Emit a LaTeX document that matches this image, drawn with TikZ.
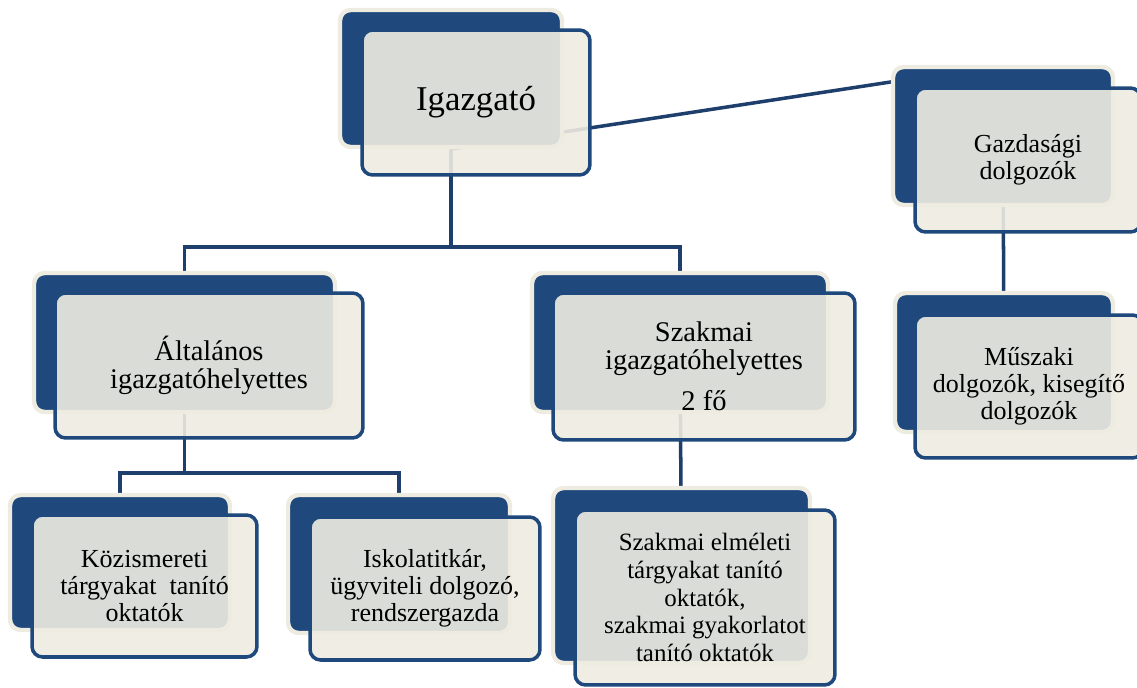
\documentclass[tikz,border=0pt]{standalone}
\usepackage{fontspec}
\setmainfont{Liberation Serif}
\usepackage{xcolor}
\usepackage{tikz}
\usetikzlibrary{calc, positioning}

\definecolor{kek}{HTML}{1F497D}
\definecolor{vonalkek}{HTML}{1E3E6C}
\definecolor{krem}{HTML}{EEECE1}

\pgfdeclarelayer{vonalak}
\pgfdeclarelayer{hatter}
\pgfsetlayers{vonalak,hatter,main}

\begin{document}
\begin{tikzpicture}[
        x=0.02cm, y=-0.02cm,
        hatso/.style={
            draw=krem,
            line width=2.5pt,
            fill=kek,
            rounded corners=6pt,
            inner sep=0pt
        },
        elso/.style={
            draw=kek,
            line width=2pt,
            fill=krem,
            fill opacity=0.9,
            text opacity=1,
            rounded corners=6pt,
            align=center,
            inner sep=2pt
        },
        szint1/.style={font=\fontsize{19.8}{21}\selectfont},
        szint2/.style={font=\fontsize{16.2}{15.6}\selectfont},
        szint3/.style={font=\fontsize{14.8}{15.3}\selectfont},
        vonal/.style={
            draw=vonalkek,
            line width=2pt
        }
    ]
        \useasboundingbox (0,0) rectangle (1137,687);

        % Hátsó kék dobozok
        \begin{pgfonlayer}{hatter}
            \node (igazgato) [hatso, minimum width=4.44cm, minimum height=2.74cm] at (451,78.5) {};
            \node (gazdasagi) [hatso, minimum width=4.40cm, minimum height=2.76cm] at (1003,136) {};
            \node (altalanos) [hatso, minimum width=6.02cm, minimum height=2.78cm] at (184.5,342.5) {};
            \node (szakmai) [hatso, minimum width=5.92cm, minimum height=2.78cm] at (680,342.5) {};
            \node (muszaki) [hatso, minimum width=4.36cm, minimum height=2.78cm] at (1004,362.5) {};
            \node (kozismereti) [hatso, minimum width=4.40cm, minimum height=2.70cm] at (120,562.5) {};
            \node (iskolatitkar) [hatso, minimum width=4.44cm, minimum height=2.76cm] at (399,564) {};
            \node (szakmai-elm) [hatso, minimum width=5.14cm, minimum height=3.50cm] at (681.5,575.5) {};
        \end{pgfonlayer}

        % Első dobozok a szövegekkel
        \node (igazgato-sz) [elso, szint1, minimum width=4.56cm, minimum height=2.90cm] at ([shift={(25,24)}]igazgato.center) {Igazgató};
        \node (gazdasagi-sz) [elso, szint3, minimum width=4.52cm, minimum height=2.88cm] at ([shift={(25,24)}]gazdasagi.center) {Gazdasági\\dolgozók};
        \node (altalanos-sz) [elso, szint2, minimum width=6.16cm, minimum height=2.90cm] at ([shift={(24.5,23)}]altalanos.center) {Általános\\igazgatóhelyettes};
        \node (szakmai-sz) [elso, szint2, minimum width=6.04cm, minimum height=2.94cm] at ([shift={(24,24)}]szakmai.center) {Szakmai\\igazgatóhelyettes\\[8pt]2 fő};
        \node (muszaki-sz) [elso, szint3, minimum width=4.56cm, minimum height=2.86cm] at ([shift={(25,24)}]muszaki.center) {Műszaki\\dolgozók, kisegítő\\dolgozók};
        \node (kozismereti-sz) [elso, szint3, minimum width=4.50cm, minimum height=2.84cm] at ([shift={(24.5,23.5)}]kozismereti.center) {Közismereti\\tárgyakat\ \ tanító\\oktatók};
        \node (iskolatitkar-sz) [elso, szint3, minimum width=4.60cm, minimum height=2.86cm] at ([shift={(26,24.5)}]iskolatitkar.center) {Iskolatitkár,\\ügyviteli dolgozó,\\rendszergazda};
        \node (szakmai-elm-sz) [elso, font=\fontsize{14.2}{15.7}\selectfont, minimum width=5.20cm, minimum height=3.50cm] at ([shift={(23.5,22)}]szakmai-elm.center) {Szakmai elméleti\\tárgyakat tanító\\oktatók,\\szakmai gyakorlatot\\tanító oktatók};

        % Connections
        \begin{pgfonlayer}{vonalak}
            \coordinate (elagazas1) at (0,247);
            \coordinate (elagazas2) at (0,473);
            \draw [vonal] (igazgato.center) -- (igazgato.center |- elagazas1) -| (altalanos.center);
            \draw [vonal] (igazgato.center |- elagazas1) -| (szakmai.center);
            \draw [vonal, shorten >=1.2cm] (igazgato.south) -- (gazdasagi.north);
            \draw [vonal] (gazdasagi) -- (muszaki);
            \draw [vonal] (altalanos.center) -- (altalanos.center |- elagazas2) -| (kozismereti.center);
            \draw [vonal] (altalanos.center |- elagazas2) -| (iskolatitkar.center);
            \draw [vonal] (szakmai) -- (szakmai-elm);
        \end{pgfonlayer}
\end{tikzpicture}
\end{document}
